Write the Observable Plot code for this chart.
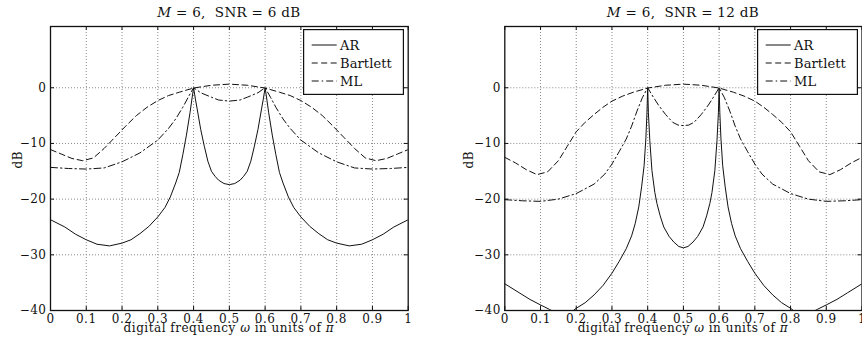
<!DOCTYPE html>
<html><head><meta charset="utf-8">
<script src="https://cdn.jsdelivr.net/npm/d3@7"></script>
<script src="https://cdn.jsdelivr.net/npm/@observablehq/plot@0.6"></script>
<style>
body{margin:0;background:#fff;font-family:"DejaVu Serif",serif;color:#111;}
#wrap{display:flex;width:862px;height:350px;overflow:hidden;}
.panel{position:relative;width:431px;height:350px;}
.title{position:absolute;top:3px;font-size:13.5px;line-height:18px;letter-spacing:0.3px;text-align:center;white-space:pre;}
.xlabel{position:absolute;top:321.5px;font-size:12px;line-height:13px;letter-spacing:0.5px;text-align:center;white-space:pre;}
.legend{position:absolute;top:29px;}
</style></head>
<body><div id="wrap"></div>
<script>
// ---- data ----
const titles = [["M", " = 6,  SNR = 6 dB"], ["M", " = 6,  SNR = 12 dB"]];
const xLabelParts = ["digital frequency ", "ω", " in units of ", "π"];
const yLabel = "dB";
const seriesNames = ["AR", "Bartlett", "ML"];
const xTicks = [0, 0.1, 0.2, 0.3, 0.4, 0.5, 0.6, 0.7, 0.8, 0.9, 1];
const xTickLabels = ["0", "0.1", "0.2", "0.3", "0.4", "0.5", "0.6", "0.7", "0.8", "0.9", "1"];
const yTicks = [-40, -30, -20, -10, 0];
const yTickLabels = ["−40", "−30", "−20", "−10", "0"];
const xGrid = [0.1, 0.2, 0.3, 0.4, 0.5, 0.6, 0.7, 0.8, 0.9];
const yGrid = [-30, -20, -10, 0];

// Panel 1: M = 6, SNR = 6 dB
const arW1 = [0, 0.04, 0.07, 0.1, 0.13, 0.165, 0.2, 0.225, 0.25, 0.275, 0.3, 0.32, 0.335, 0.35, 0.36, 0.37, 0.38, 0.39, 0.395, 0.4, 0.405, 0.41, 0.42, 0.43, 0.44, 0.45, 0.46, 0.47, 0.485, 0.5,
  0.515, 0.53, 0.54, 0.55, 0.56, 0.57, 0.58, 0.59, 0.595, 0.6, 0.605, 0.61, 0.62, 0.63, 0.64, 0.65, 0.665, 0.68, 0.7, 0.725, 0.75, 0.775, 0.8, 0.835, 0.87, 0.9, 0.93, 0.96, 1];
const arDb1 = [-23.7, -25.0, -26.3, -27.3, -28.1, -28.4, -27.9, -27.3, -26.2, -24.9, -23.2, -21.5, -19.6, -17.1, -15.2, -12.0, -8.5, -4.5, -2.2, 0, -2.0, -3.8, -7.5, -10.5, -13.2, -15.0, -15.9, -16.6, -17.2, -17.4,
  -17.2, -16.6, -15.9, -15.0, -13.2, -10.5, -7.5, -3.8, -2.0, 0, -2.2, -4.5, -8.5, -12.0, -15.2, -17.1, -19.6, -21.5, -23.2, -24.9, -26.2, -27.3, -27.9, -28.4, -28.1, -27.3, -26.3, -25.0, -23.7];
const bartW1 = [0, 0.03, 0.06, 0.09, 0.12, 0.15, 0.18, 0.21, 0.24, 0.27, 0.3, 0.33, 0.36, 0.4, 0.45, 0.5, 0.55, 0.6, 0.64, 0.67, 0.7, 0.73, 0.76, 0.79, 0.82, 0.85, 0.88, 0.91, 0.94, 0.97, 1];
const bartDb1 = [-11.1, -11.9, -12.7, -13.1, -12.6, -10.9, -8.9, -6.9, -5.0, -3.5, -2.3, -1.4, -0.8, -0.05, 0.45, 0.65, 0.45, -0.05, -0.8, -1.4, -2.3, -3.5, -5.0, -6.9, -8.9, -10.9, -12.6, -13.1, -12.7, -11.9, -11.1];
const mlW1 = [0, 0.05, 0.1, 0.15, 0.2, 0.25, 0.3, 0.33, 0.35, 0.37, 0.385, 0.4, 0.42, 0.45, 0.47, 0.5, 0.53, 0.55, 0.58, 0.6, 0.615, 0.63, 0.65, 0.67, 0.7, 0.75, 0.8, 0.85, 0.9, 0.95, 1];
const mlDb1 = [-14.3, -14.5, -14.6, -14.4, -13.3, -11.7, -9.4, -7.3, -5.6, -3.5, -1.7, 0, -0.9, -1.7, -2.2, -2.4, -2.2, -1.7, -0.9, 0, -1.7, -3.5, -5.6, -7.3, -9.4, -11.7, -13.3, -14.4, -14.6, -14.5, -14.3];

// Panel 2: M = 6, SNR = 12 dB
const arW2 = [0, 0.04, 0.07, 0.1, 0.125, 0.14, 0.165, 0.19, 0.2, 0.225, 0.25, 0.275, 0.3, 0.32, 0.34, 0.355, 0.365, 0.375, 0.383, 0.39, 0.395, 0.398, 0.4, 0.402, 0.406, 0.412, 0.42, 0.426, 0.435, 0.445, 0.46, 0.473, 0.487, 0.5,
  0.513, 0.527, 0.54, 0.555, 0.565, 0.574, 0.58, 0.588, 0.594, 0.598, 0.6, 0.602, 0.605, 0.61, 0.617, 0.625, 0.635, 0.645, 0.66, 0.68, 0.7, 0.725, 0.75, 0.775, 0.8, 0.81, 0.835, 0.86, 0.875, 0.9, 0.93, 0.96, 1];
const arDb2 = [-35.2, -36.8, -38.0, -39.0, -39.8, -40.3, -40.6, -40.1, -39.6, -38.6, -37.2, -35.5, -33.3, -31.2, -28.9, -26.6, -24.4, -21.4, -17.8, -14.0, -9.0, -4.5, 0, -4.5, -9.5, -14.9, -18.8, -20.8, -23.0, -25.0, -26.7, -27.7, -28.5, -28.75,
  -28.5, -27.7, -26.7, -25.0, -23.0, -20.8, -18.8, -14.9, -9.5, -4.5, 0, -4.5, -9.0, -14.0, -17.8, -21.4, -24.4, -26.6, -28.9, -31.2, -33.3, -35.5, -37.2, -38.6, -39.6, -40.1, -40.6, -40.3, -39.8, -39.0, -38.0, -36.8, -35.2];
const bartW2 = [0, 0.03, 0.06, 0.09, 0.12, 0.15, 0.175, 0.2, 0.225, 0.25, 0.275, 0.3, 0.33, 0.36, 0.4, 0.45, 0.5, 0.55, 0.6, 0.64, 0.67, 0.7, 0.725, 0.75, 0.775, 0.8, 0.825, 0.85, 0.88, 0.91, 0.94, 0.97, 1];
const bartDb2 = [-12.5, -13.5, -14.7, -15.6, -15.1, -13.1, -10.5, -7.9, -6.2, -4.8, -3.5, -2.4, -1.5, -0.8, -0.05, 0.45, 0.65, 0.45, -0.05, -0.8, -1.5, -2.4, -3.5, -4.8, -6.2, -7.9, -10.5, -13.1, -15.1, -15.6, -14.7, -13.5, -12.5];
const mlW2 = [0, 0.05, 0.1, 0.15, 0.2, 0.25, 0.28, 0.3, 0.32, 0.34, 0.355, 0.37, 0.385, 0.4, 0.415, 0.43, 0.45, 0.47, 0.485, 0.5, 0.515, 0.53, 0.55, 0.57, 0.585, 0.6, 0.615, 0.63, 0.645, 0.66, 0.68, 0.7, 0.72, 0.75, 0.8, 0.85, 0.9, 0.95, 1];
const mlDb2 = [-20.1, -20.3, -20.4, -20.0, -19.0, -17.3, -15.5, -13.7, -11.5, -9.2, -6.9, -4.2, -1.8, 0, -1.6, -3.1, -4.8, -6.2, -6.7, -6.8, -6.7, -6.2, -4.8, -3.1, -1.6, 0, -1.8, -4.2, -6.9, -9.2, -11.5, -13.7, -15.5, -17.3, -19.0, -20.0, -20.4, -20.3, -20.1];

const dashes = [null, "6,3.5", "7,3,1.5,3"];

const panels = [
  {title: titles[0], ml: 50, mr: 23.3, dbDx: -32, series: [[arW1, arDb1], [bartW1, bartDb1], [mlW1, mlDb1]]},
  {title: titles[1], ml: 73.3, mr: 0.5, dbDx: -36, series: [[arW2, arDb2], [bartW2, bartDb2], [mlW2, mlDb2]]}
];
const MT = 26, MB = 40, W = 431, H = 350, TL = 4;

const wrap = document.getElementById("wrap");
for (const p of panels) {
  const innerH = H - MT - MB, innerW = W - p.ml - p.mr;
  const lineMarks = p.series.map(([ws, ds], k) =>
    Plot.line(ws.map((w, i) => ({w, db: ds[i]})), {x: "w", y: "db", stroke: "#111", strokeWidth: 1, strokeDasharray: dashes[k], clip: true}));
  const chart = Plot.plot({
    width: W, height: H, marginLeft: p.ml, marginRight: p.mr, marginTop: MT, marginBottom: MB,
    style: {fontFamily: "DejaVu Serif", fontSize: "12px", letterSpacing: "0.5px", color: "#111", background: "white"},
    x: {domain: [0, 1], label: null},
    y: {domain: [-40, 11], label: null},
    marks: [
      Plot.ruleX(xGrid, {x: d => d, stroke: "#8a8a8a", strokeDasharray: "1,2"}),
      Plot.ruleY(yGrid, {y: d => d, stroke: "#8a8a8a", strokeDasharray: "1,2"}),
      Plot.tickX(xTicks, {x: d => d, insetBottom: innerH - TL, stroke: "#111"}),
      Plot.tickX(xTicks, {x: d => d, insetTop: innerH - TL, stroke: "#111"}),
      Plot.tickY(yTicks, {y: d => d, insetRight: innerW - TL, stroke: "#111"}),
      Plot.tickY(yTicks, {y: d => d, insetLeft: innerW - TL, stroke: "#111"}),
      ...lineMarks,
      Plot.frame({stroke: "#111", strokeWidth: 1.3}),
      Plot.axisX(xTicks, {tickSize: 0, tickPadding: 3.5, tickFormat: d => xTickLabels[xTicks.indexOf(d)], label: null}),
      Plot.axisY(yTicks, {tickSize: 0, tickPadding: 4, tickFormat: d => yTickLabels[yTicks.indexOf(d)], label: null}),
      Plot.text([yLabel], {text: d => d, frameAnchor: "left", rotate: -90, dx: p.dbDx, fontSize: 12})
    ]
  });
  const div = document.createElement("div");
  div.className = "panel";
  div.appendChild(chart);
  // title
  const t = document.createElement("div");
  t.className = "title";
  t.style.left = p.ml + "px"; t.style.width = innerW + "px";
  const it = document.createElement("i"); it.textContent = p.title[0];
  t.appendChild(it); t.appendChild(document.createTextNode(p.title[1]));
  div.appendChild(t);
  // x label
  const xl = document.createElement("div");
  xl.className = "xlabel";
  xl.style.left = p.ml + "px"; xl.style.width = innerW + "px";
  xLabelParts.forEach((s, i) => {
    if (i % 2 === 1) { const e = document.createElement("i"); e.textContent = s; xl.appendChild(e); }
    else xl.appendChild(document.createTextNode(s));
  });
  div.appendChild(xl);
  // legend
  const lw = 101, lh = 66;
  const lg = d3.create("svg").attr("class", "legend").attr("width", lw).attr("height", lh)
    .style("left", (p.ml + innerW - 3.7 - lw) + "px");
  lg.append("rect").attr("x", 0.6).attr("y", 0.6).attr("width", lw - 1.2).attr("height", lh - 1.2)
    .attr("fill", "white").attr("stroke", "#111").attr("stroke-width", 1.2);
  seriesNames.forEach((name, k) => {
    const yy = 16 + k * 18;
    lg.append("line").attr("x1", 8.7).attr("x2", 33.7).attr("y1", yy).attr("y2", yy)
      .attr("stroke", "#111").attr("stroke-width", 1).attr("stroke-dasharray", dashes[k]);
    lg.append("text").attr("x", 37).attr("y", yy + 4.6).attr("font-family", "DejaVu Serif").attr("font-size", 13)
      .attr("letter-spacing", "0.1px").attr("fill", "#111").text(name);
  });
  div.appendChild(lg.node());
  wrap.appendChild(div);
}
</script>
</body></html>
